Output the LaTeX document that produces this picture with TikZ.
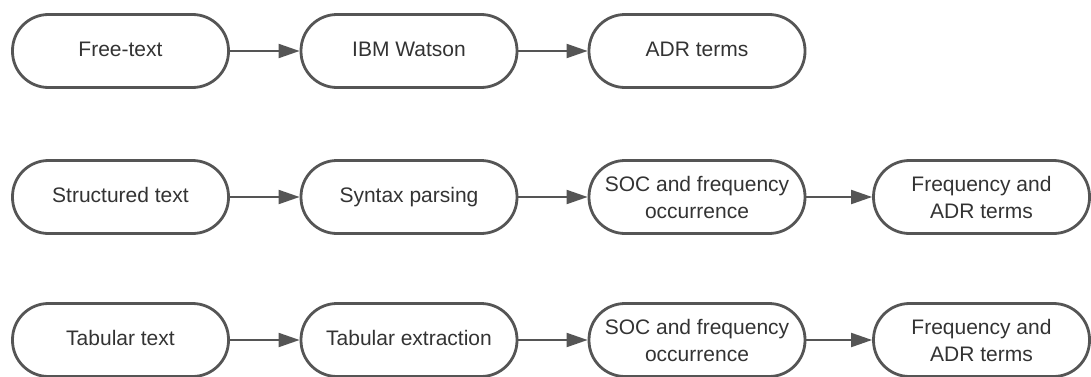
\documentclass[tikz,border=0pt]{standalone}
\usepackage{fontspec}
\setmainfont{Liberation Sans}
\usepackage{tikz}
\usetikzlibrary{arrows.meta}
\definecolor{uuuuuu}{rgb}{0.333333333333,0.333333333333,0.333333333333}
\definecolor{tttttt}{rgb}{0.2,0.2,0.2}
\tikzset{
  flowbox/.style={draw=uuuuuu,line width=1.4pt,rectangle,rounded corners=18pt,
    minimum width=108pt,minimum height=36.5pt,inner sep=1pt,align=center,
    text=tttttt,font=\fontsize{10.5}{13.5}\selectfont},
  onebox/.style={flowbox,text height=0.72em,text depth=0.22em},
  flowarrow/.style={draw=uuuuuu,line width=1pt,-{Triangle[length=10.5pt,width=7pt]}}
}
\begin{document}
\begin{tikzpicture}[line cap=round,line join=round,x=0.5pt,y=0.5pt]
\useasboundingbox (0,0) rectangle (1091,376);
% free text
\node[onebox] (free) at (120.5,325) {Free-text};
\node[onebox] (watson) at (409,325) {IBM Watson};
\node[onebox] (adr) at (697,325) {ADR terms};
\draw[flowarrow] (free) -- (watson);
\draw[flowarrow] (watson) -- (adr);
% structured text
\node[onebox] (struct) at (120.5,179) {Structured text};
\node[onebox] (syntax) at (409,179) {Syntax parsing};
\node[flowbox] (socs) at (697,179) {SOC and frequency\\occurrence};
\node[flowbox] (freqs) at (981.5,179) {Frequency and\\ADR terms};
\draw[flowarrow] (struct) -- (syntax);
\draw[flowarrow] (syntax) -- (socs);
\draw[flowarrow] (socs) -- (freqs);
% tabular text
\node[onebox] (tab) at (120.5,36) {Tabular text};
\node[onebox] (tabex) at (409,36) {Tabular extraction};
\node[flowbox] (soct) at (697,36) {SOC and frequency\\occurrence};
\node[flowbox] (freqt) at (981.5,36) {Frequency and\\ADR terms};
\draw[flowarrow] (tab) -- (tabex);
\draw[flowarrow] (tabex) -- (soct);
\draw[flowarrow] (soct) -- (freqt);
\end{tikzpicture}
\end{document}
